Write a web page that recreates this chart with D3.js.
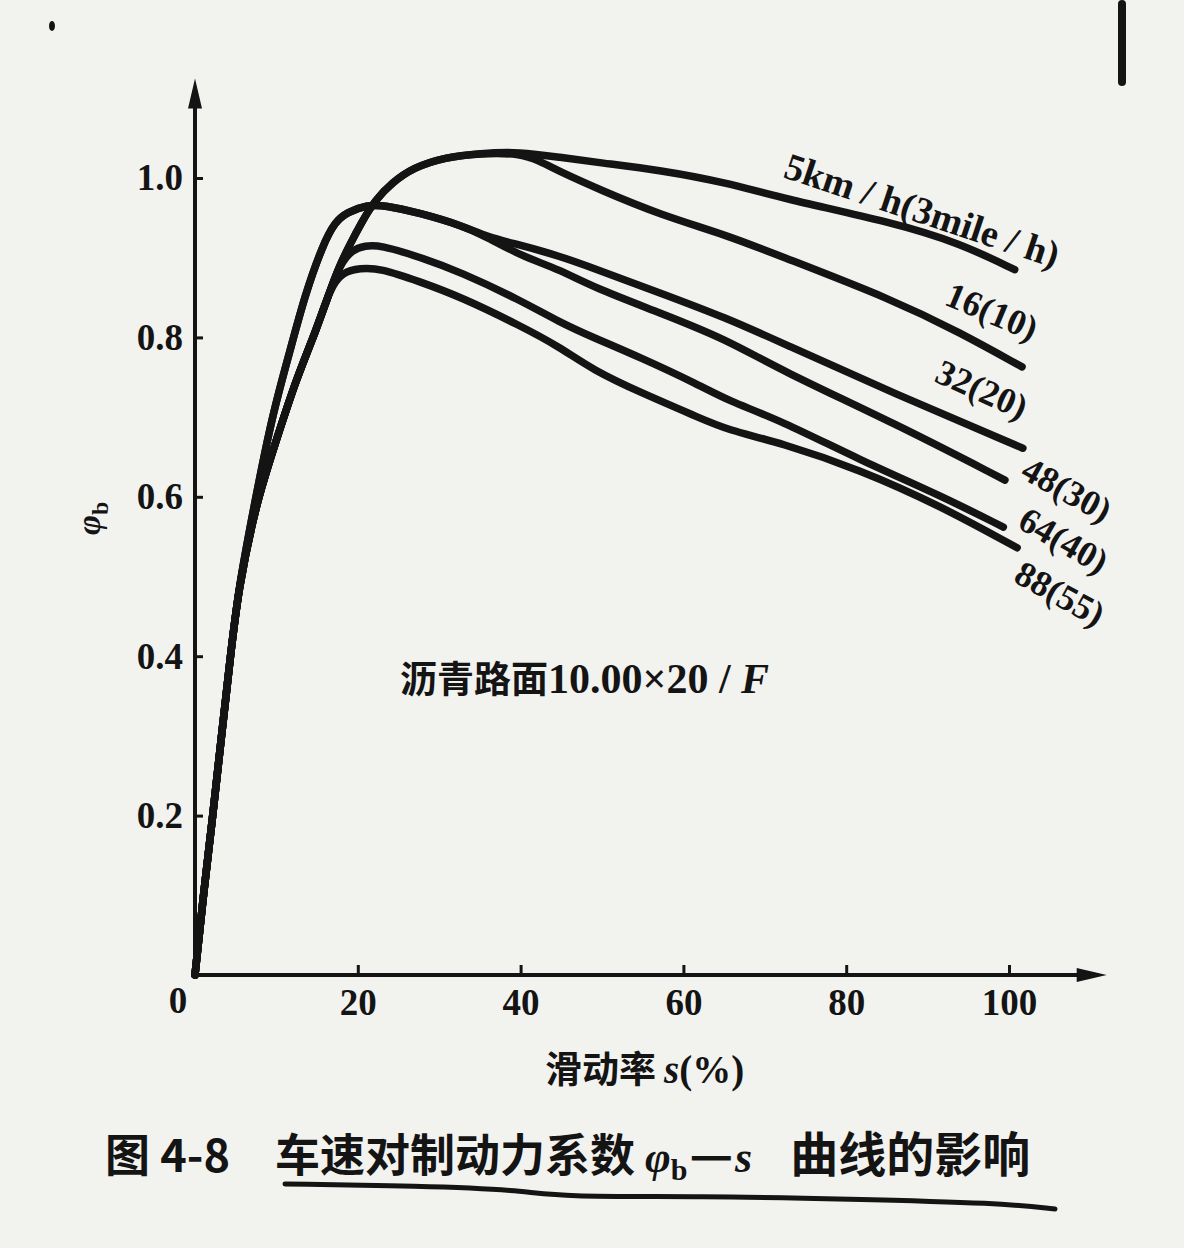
<!DOCTYPE html>
<html>
<head>
<meta charset="utf-8">
<script src="https://cdn.jsdelivr.net/npm/d3@7"></script>
<style>
  html, body { margin: 0; padding: 0; background: #f2f2ef; }
  svg { display: block; }
  .axis .tick text {
    font-family: "Liberation Serif", "DejaVu Serif", serif;
    font-weight: bold;
    font-size: 37px;
    fill: #141414;
  }
  .axis .tick line { stroke: #141414; stroke-width: 3; }
  .serif { font-family: "Liberation Serif", "DejaVu Serif", serif; font-weight: bold; }
  .cjk { font-family: "Noto Sans CJK SC", sans-serif; font-weight: 700; }
</style>
</head>
<body>
<svg id="chart" width="1184" height="1248"></svg>
<script>
// Slip ratio s (%) and braking coefficient phi_b.
// Each speed curve keeps its full point list, including the shared rising part.
const slip5  = [0, 1.1, 2.1, 3.2, 4.3, 5.3, 7.5, 9.8, 12.4, 14.9, 16.6, 17.8, 19.0, 20.5, 22.1, 24.2, 26.8, 30.7, 35.0, 39.9, 44.8, 49.8, 57.1, 65.4, 71.9, 85.8, 94.0, 100.7];
const phi5   = [0, 0.107, 0.192, 0.295, 0.395, 0.483, 0.592, 0.665, 0.747, 0.809, 0.859, 0.891, 0.916, 0.945, 0.972, 0.994, 1.013, 1.026, 1.031, 1.033, 1.026, 1.019, 1.010, 0.994, 0.975, 0.944, 0.918, 0.885];

const slip16 = [0, 1.1, 2.1, 3.2, 4.3, 5.3, 7.5, 9.8, 12.4, 14.9, 16.6, 17.8, 19.0, 20.5, 22.1, 24.2, 26.8, 30.7, 35.0, 39.9, 42.4, 44.8, 49.8, 57.1, 65.4, 71.9, 85.8, 94.0, 101.6];
const phi16  = [0, 0.107, 0.192, 0.295, 0.395, 0.483, 0.592, 0.665, 0.747, 0.809, 0.859, 0.891, 0.916, 0.945, 0.972, 0.994, 1.013, 1.026, 1.031, 1.031, 1.021, 1.008, 0.985, 0.954, 0.928, 0.902, 0.847, 0.806, 0.763];

const slip32 = [0, 1.1, 2.1, 3.2, 4.3, 5.3, 7.4, 9.5, 11.7, 13.5, 15.7, 17.2, 18.7, 21.1, 23.3, 27.6, 32.6, 35.9, 39.9, 44.8, 48.9, 57.1, 65.4, 71.9, 85.8, 101.7];
const phi32  = [0, 0.107, 0.192, 0.295, 0.395, 0.483, 0.596, 0.703, 0.784, 0.853, 0.916, 0.945, 0.957, 0.966, 0.966, 0.956, 0.941, 0.926, 0.916, 0.902, 0.887, 0.856, 0.824, 0.794, 0.730, 0.661];

const slip48 = [0, 1.1, 2.1, 3.2, 4.3, 5.3, 7.4, 9.5, 11.7, 13.5, 15.7, 17.2, 18.7, 21.1, 23.3, 27.6, 32.6, 35.9, 39.9, 44.8, 48.9, 57.1, 65.4, 71.9, 85.8, 99.5];
const phi48  = [0, 0.107, 0.192, 0.295, 0.395, 0.483, 0.596, 0.703, 0.784, 0.853, 0.916, 0.945, 0.957, 0.966, 0.966, 0.956, 0.941, 0.926, 0.903, 0.885, 0.863, 0.831, 0.797, 0.759, 0.693, 0.621];

const slip64 = [0, 1.1, 2.1, 3.2, 4.3, 5.3, 7.5, 9.8, 12.4, 14.9, 16.6, 17.8, 19.3, 20.9, 22.7, 27.6, 32.6, 39.9, 44.8, 48.9, 54.7, 62.0, 65.4, 71.9, 81.7, 91.5, 99.3];
const phi64  = [0, 0.107, 0.192, 0.295, 0.395, 0.483, 0.592, 0.665, 0.747, 0.809, 0.859, 0.891, 0.910, 0.915, 0.916, 0.901, 0.882, 0.847, 0.819, 0.800, 0.775, 0.740, 0.721, 0.696, 0.646, 0.602, 0.562];

const slip88 = [0, 1.1, 2.1, 3.2, 4.3, 5.3, 7.5, 9.8, 12.4, 14.9, 16.6, 18.1, 20.3, 22.7, 27.6, 32.6, 39.9, 44.8, 48.9, 54.7, 62.0, 65.4, 71.9, 81.7, 91.5, 101.0];
const phi88  = [0, 0.107, 0.192, 0.295, 0.395, 0.483, 0.592, 0.665, 0.747, 0.809, 0.862, 0.882, 0.887, 0.887, 0.870, 0.851, 0.815, 0.788, 0.759, 0.731, 0.699, 0.684, 0.668, 0.634, 0.589, 0.536];

const speedLabels = ['5km / h(3mile / h)', '16(10)', '32(20)', '48(30)', '64(40)', '88(55)'];
const xTicks = [20, 40, 60, 80, 100];
const yTicks = [0.2, 0.4, 0.6, 0.8, 1.0];

const series = [
  { s: slip5, p: phi5 },
  { s: slip16, p: phi16 },
  { s: slip32, p: phi32 },
  { s: slip48, p: phi48 },
  { s: slip64, p: phi64 },
  { s: slip88, p: phi88 },
];

// Where each rotated curve label sits (pixel baseline start + angle)
const labelLayout = [
  { x: 782, y: 177, angle: 18.5 },
  { x: 943, y: 304, angle: 23 },
  { x: 933, y: 381, angle: 24 },
  { x: 1019, y: 477, angle: 29 },
  { x: 1016, y: 527, angle: 30 },
  { x: 1012, y: 581, angle: 29 },
];

const ink = '#141414';
const svg = d3.select('#chart');

const x = d3.scaleLinear().domain([0, 100]).range([195, 1009]);
const y = d3.scaleLinear().domain([0, 1]).range([975, 178]);
const xMax = 112;
const yMax = 1.125;

// scan marks at the page edges
svg.append('rect').attr('x', 1118).attr('y', 0).attr('width', 8).attr('height', 86)
  .attr('rx', 4).attr('fill', ink);
svg.append('ellipse').attr('cx', 52).attr('cy', 26).attr('rx', 3).attr('ry', 5).attr('fill', ink);

// Axes
const xAxis = d3.axisBottom(x)
  .tickValues(xTicks)
  .tickSize(-10)
  .tickPadding(14)
  .tickFormat(d3.format('d'));

const yAxis = d3.axisLeft(y)
  .tickValues(yTicks)
  .tickSize(-8)
  .tickPadding(12)
  .tickFormat(d3.format('.1f'));

const xAxisEl = svg.append('g')
  .attr('class', 'axis x')
  .attr('transform', `translate(0, ${ y(0) })`)
  .call(xAxis);
xAxisEl.select('.domain').remove();

const yAxisEl = svg.append('g')
  .attr('class', 'axis y')
  .attr('transform', `translate(${ x(0) }, 0)`)
  .call(yAxis);
yAxisEl.select('.domain').remove();

// axis lines with arrow heads
svg.append('line')
  .attr('x1', x(0)).attr('y1', y(0))
  .attr('x2', x(xMax) - 20).attr('y2', y(0))
  .attr('stroke', ink).attr('stroke-width', 4);
svg.append('path')
  .attr('d', `M${ x(xMax) },${ y(0) } L${ x(xMax) - 30 },${ y(0) - 7 } L${ x(xMax) - 30 },${ y(0) + 7 } Z`)
  .attr('fill', ink);

svg.append('line')
  .attr('x1', x(0)).attr('y1', y(0) + 2)
  .attr('x2', x(0)).attr('y2', y(yMax) + 20)
  .attr('stroke', ink).attr('stroke-width', 4);
svg.append('path')
  .attr('d', `M${ x(0) },${ y(yMax) } L${ x(0) - 7 },${ y(yMax) + 30 } L${ x(0) + 7 },${ y(yMax) + 30 } Z`)
  .attr('fill', ink);

// origin label sits to the lower left of the corner
svg.append('text')
  .attr('class', 'serif')
  .attr('x', x(0) - 17)
  .attr('y', y(0) + 38)
  .attr('text-anchor', 'middle')
  .attr('font-size', 37)
  .attr('fill', ink)
  .text('0');

// Curves (basis smoothing irons out the hand-read wobble)
const line = d3.line()
  .x((d) => x(d[0]))
  .y((d) => y(d[1]))
  .curve(d3.curveBasis);

svg.append('g')
  .selectAll('path')
  .data(series)
  .join('path')
    .attr('d', (d) => line(d3.zip(d.s, d.p)))
    .attr('fill', 'none')
    .attr('stroke', ink)
    .attr('stroke-width', 7.5)
    .attr('stroke-linecap', 'round')
    .attr('stroke-linejoin', 'round');

// Curve labels, tilted along the tails
svg.append('g')
  .selectAll('text')
  .data(speedLabels)
  .join('text')
    .attr('class', 'serif')
    .attr('font-size', (d, i) => i === 0 ? 38 : 36)
    .attr('fill', ink)
    .attr('transform', (d, i) => `translate(${ labelLayout[i].x }, ${ labelLayout[i].y }) rotate(${ labelLayout[i].angle })`)
    .text((d) => d);

// Road surface note
const note = svg.append('text')
  .attr('x', 400)
  .attr('y', 693)
  .attr('fill', ink);
note.append('tspan').attr('class', 'cjk').attr('font-size', 37).attr('font-weight', 900).text('沥青路面');
note.append('tspan').attr('class', 'serif').attr('font-size', 42).text('10.00×20 / ');
note.append('tspan').attr('class', 'serif').attr('font-size', 42).attr('font-style', 'italic').text('F');

// Y axis title: phi_b rotated
const yTitle = svg.append('text')
  .attr('transform', 'translate(100, 535) rotate(-90)')
  .attr('fill', ink);
yTitle.append('tspan').attr('class', 'serif').attr('font-size', 34).attr('font-style', 'italic').text('φ');
yTitle.append('tspan').attr('class', 'serif').attr('font-size', 24).attr('dy', 8).text('b');

// X axis title
const xTitle = svg.append('text')
  .attr('x', 545)
  .attr('y', 1083)
  .attr('fill', ink);
xTitle.append('tspan').attr('class', 'cjk').attr('font-size', 37).text('滑动率');
xTitle.append('tspan').attr('class', 'serif').attr('font-size', 39).attr('font-style', 'italic').attr('dx', 8).text('s');
xTitle.append('tspan').attr('class', 'serif').attr('font-size', 39).text('(%)');

// Figure caption
svg.append('text')
  .attr('class', 'cjk')
  .attr('x', 105)
  .attr('y', 1172)
  .attr('font-size', 45)
  .attr('fill', ink)
  .text('图 4-8');

const caption = svg.append('text')
  .attr('x', 275)
  .attr('y', 1172)
  .attr('fill', ink);
caption.append('tspan').attr('class', 'cjk').attr('font-size', 45).text('车速对制动力系数');
caption.append('tspan').attr('class', 'serif').attr('font-size', 44).attr('font-style', 'italic').attr('dx', 10).text('φ');
caption.append('tspan').attr('class', 'serif').attr('font-size', 30).attr('dy', 8).text('b');
caption.append('tspan').attr('class', 'cjk').attr('font-size', 48).attr('dy', -8).attr('dx', 2).text('—');
caption.append('tspan').attr('class', 'serif').attr('font-size', 44).attr('font-style', 'italic').attr('dx', 2).text('s');
caption.append('tspan').attr('class', 'cjk').attr('font-size', 48).attr('dx', 38).text('曲线的影响');

// hand-drawn underline under the caption
const underline = [[285, 1184], [420, 1186], [520, 1190], [560, 1197], [700, 1196], [850, 1199], [1000, 1203], [1055, 1209]];
svg.append('path')
  .attr('d', d3.line().curve(d3.curveBasis)(underline))
  .attr('fill', 'none')
  .attr('stroke', ink)
  .attr('stroke-width', 5)
  .attr('stroke-linecap', 'round');
</script>
</body>
</html>
